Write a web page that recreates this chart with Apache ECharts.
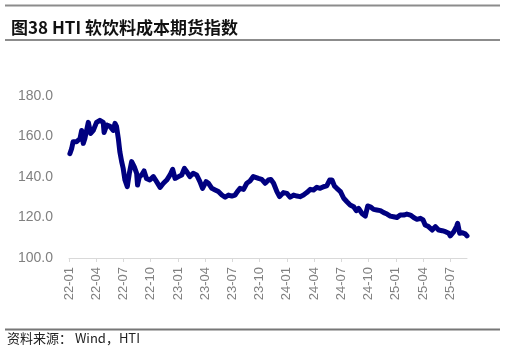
<!DOCTYPE html>
<html>
<head>
<meta charset="utf-8">
<script src="https://cdn.jsdelivr.net/npm/echarts@6/dist/echarts.min.js"></script>
<style>
html,body{margin:0;padding:0;background:#fff;}
#chart{width:506px;height:353px;}
</style>
</head>
<body>
<div id="chart"></div>
<script>
// 日期与指数
var dates = [
  '2022-01-04','2022-01-10','2022-01-15','2022-01-27','2022-02-07','2022-02-12','2022-02-17','2022-02-22',
  '2022-03-05','2022-03-13','2022-03-22','2022-04-02','2022-04-13','2022-04-24','2022-04-27','2022-05-06',
  '2022-05-17','2022-05-28','2022-06-03','2022-06-08','2022-06-14','2022-06-19','2022-06-25','2022-06-30',
  '2022-07-06','2022-07-14','2022-07-21','2022-07-29','2022-08-07','2022-08-15','2022-08-18','2022-08-24',
  '2022-09-01','2022-09-09','2022-09-17','2022-09-28','2022-10-10','2022-10-21','2022-11-02','2022-11-13',
  '2022-11-24','2022-12-05','2022-12-14','2022-12-22','2023-01-03','2023-01-14','2023-01-23','2023-01-31',
  '2023-02-10','2023-02-20','2023-03-03','2023-03-14','2023-03-23','2023-04-04','2023-04-12','2023-04-23',
  '2023-05-04','2023-05-15','2023-05-27','2023-06-07','2023-06-18','2023-06-29','2023-07-10','2023-07-18',
  '2023-07-27','2023-08-08','2023-08-19','2023-08-30','2023-09-10','2023-09-27','2023-10-08','2023-10-20',
  '2023-10-31','2023-11-08','2023-11-17','2023-11-28','2023-12-07','2023-12-20','2024-01-01','2024-01-12',
  '2024-01-24','2024-02-04','2024-02-14','2024-02-25','2024-03-07','2024-03-19','2024-03-30','2024-04-10',
  '2024-04-21','2024-05-02','2024-05-13','2024-05-23','2024-05-31','2024-06-08','2024-06-16','2024-06-28',
  '2024-07-09','2024-07-20','2024-07-31','2024-08-12','2024-08-21','2024-08-29','2024-09-09','2024-09-20',
  '2024-09-28','2024-10-07','2024-10-18','2024-10-29','2024-11-10','2024-11-21','2024-12-02','2024-12-13',
  '2024-12-24','2025-01-05','2025-01-16','2025-01-28','2025-02-07','2025-02-18','2025-02-28','2025-03-11',
  '2025-03-23','2025-04-01','2025-04-08','2025-04-19','2025-05-01','2025-05-12','2025-05-23','2025-06-04',
  '2025-06-15','2025-06-26','2025-07-01','2025-07-13','2025-07-22','2025-07-26','2025-08-02','2025-08-10',
  '2025-08-21','2025-08-27'
];
var values = [
  151.5,154.0,157.4,157.4,159.0,163.0,156.6,159.0,
  167.0,161.5,163.0,167.0,168.0,167.0,162.0,165.7,
  165.0,163.0,166.5,165.0,159.0,152.5,147.6,144.3,
  138.5,135.2,141.8,147.6,145.0,141.8,136.0,140.0,
  141.0,143.0,139.3,138.5,140.2,137.7,134.9,136.9,
  138.5,141.0,143.8,139.3,140.2,141.0,144.3,142.6,
  140.2,141.8,141.0,137.7,134.4,137.7,136.9,134.4,
  133.6,132.8,131.1,130.0,131.1,130.6,131.1,132.8,
  134.4,133.9,136.9,138.0,140.2,139.3,138.8,136.9,
  138.5,138.8,136.9,132.8,130.3,132.3,131.9,130.0,
  131.1,130.6,130.3,131.1,132.3,133.9,133.6,134.9,
  134.4,135.2,135.6,138.5,138.5,135.6,134.4,132.8,
  129.5,127.8,126.2,125.3,123.4,124.5,122.0,120.7,
  125.7,125.3,124.0,123.7,123.4,122.4,121.7,120.7,
  120.4,120.0,121.2,121.2,121.7,121.2,120.0,119.1,
  119.6,118.8,116.3,115.5,113.8,115.5,113.8,113.5,
  113.0,112.2,110.9,113.0,115.5,117.1,112.2,112.5,
  111.9,110.9
];
var xTicks = [0,3,6,9,12,15,18,21,24,27,30,33,36,39,42];

function monthIdx(s){
  var p = s.split('-').map(Number);
  var dim = new Date(p[0], p[1], 0).getDate();
  return (p[0]-2022)*12 + (p[1]-1) + (p[2]-1)/dim;
}
function pad(n){ return n < 10 ? '0'+n : ''+n; }

var seriesData = dates.map(function(d,i){ return [monthIdx(d), values[i]]; });

var myChart = echarts.init(document.getElementById('chart'));
myChart.setOption({
  animation: false,
  title: {
    text: '图38 HTI 软饮料成本期货指数',
    left: 6, top: 14,
    textStyle: {fontFamily: '"Noto Sans CJK SC"', fontSize: 17, fontWeight: 'bold', color: '#111'}
  },
  graphic: [
    {type:'line', shape:{x1:5,y1:5.5,x2:500,y2:5.5}, style:{stroke:'#8c8c8c',lineWidth:2}},
    {type:'line', shape:{x1:5,y1:40,x2:500,y2:40}, style:{stroke:'#8c8c8c',lineWidth:2}},
    {type:'line', shape:{x1:5,y1:329.5,x2:500,y2:329.5}, style:{stroke:'#777',lineWidth:2}},
    {type:'text', left:7, top:332, style:{text:'资料来源： Wind，HTI', font:'13px "Noto Sans CJK SC"', fill:'#222'}}
  ],
  grid: {left: 69, right: 39, top: 96, bottom: 95},
  xAxis: {
    type: 'value',
    min: 0,
    max: function(v){ return v.max; },
    interval: 3,
    splitLine: {show: false},
    axisLine: {lineStyle: {color: '#d9d9d9'}},
    axisTick: {show: true, length: 4, lineStyle: {color: '#d9d9d9'}, customValues: xTicks},
    axisLabel: {
      rotate: 90, margin: 9, fontSize: 13, color: '#808080',
      fontFamily: '"Liberation Sans", Arial',
      customValues: xTicks,
      formatter: function(v){ return (22 + Math.floor(v/12)) + '-' + pad(Math.round(v)%12 + 1); }
    }
  },
  yAxis: {
    type: 'value',
    min: 100, max: 180, interval: 20,
    splitLine: {show: false},
    axisLine: {show: false},
    axisTick: {show: false},
    axisLabel: {
      margin: 16, fontSize: 14, color: '#808080',
      fontFamily: '"Liberation Sans", Arial',
      formatter: function(v){ return v.toFixed(1); }
    }
  },
  series: [{
    type: 'line',
    data: seriesData,
    symbol: 'none',
    lineStyle: {color: '#000080', width: 5, join: 'round', cap: 'round'}
  }]
});
</script>
</body>
</html>
